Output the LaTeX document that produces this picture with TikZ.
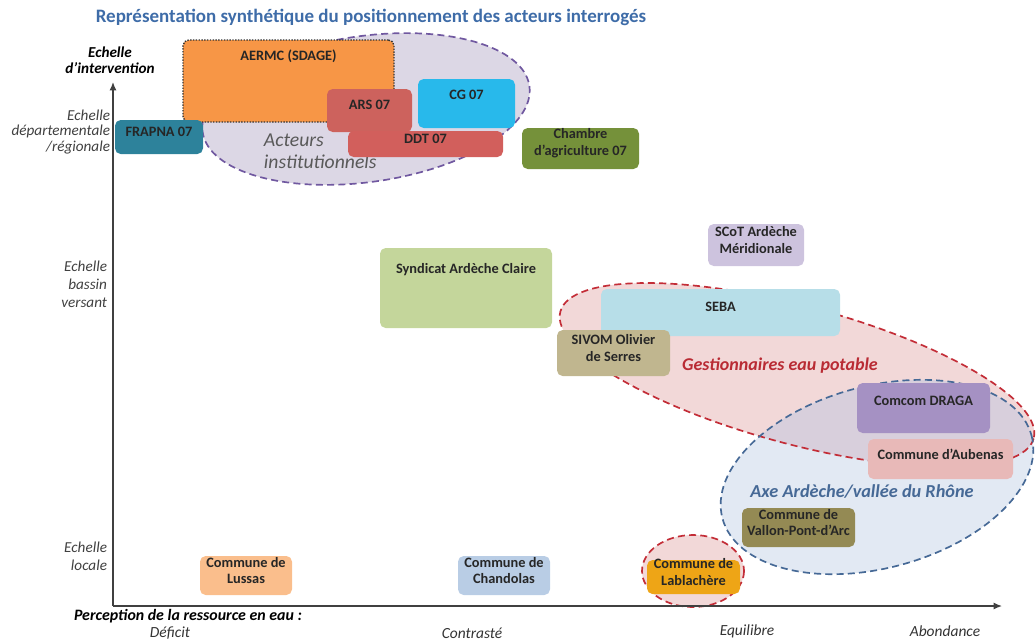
\documentclass[tikz,border=0pt]{standalone}
\usepackage{fontspec}
\setmainfont{Carlito}
\usetikzlibrary{arrows.meta, fit, positioning}

% colours of the actors
\definecolor{titrebleu}{RGB}{62,108,168}
\definecolor{cAermc}{RGB}{247,150,70}
\definecolor{cArs}{RGB}{205,98,93}
\definecolor{cDdt}{RGB}{210,95,92}
\definecolor{cCg}{RGB}{40,185,235}
\definecolor{cFrapna}{RGB}{45,130,155}
\definecolor{cChambre}{RGB}{117,145,58}
\definecolor{cScot}{RGB}{205,195,222}
\definecolor{cSyndicat}{RGB}{196,214,155}
\definecolor{cSeba}{RGB}{183,222,232}
\definecolor{cSivom}{RGB}{192,182,143}
\definecolor{cComcom}{RGB}{165,145,195}
\definecolor{cAubenas}{RGB}{232,185,184}
\definecolor{cVallon}{RGB}{148,138,84}
\definecolor{cLablachere}{RGB}{238,165,22}
\definecolor{cLussas}{RGB}{250,190,140}
\definecolor{cChandolas}{RGB}{185,205,229}
% colours of the groups
\definecolor{violetInst}{RGB}{112,88,160}
\definecolor{fondInst}{RGB}{220,215,229}
\definecolor{rougeGest}{RGB}{195,45,55}
\definecolor{fondGest}{RGB}{242,216,216}
\definecolor{bleuAxe}{RGB}{70,105,150}
\definecolor{fondAxe}{RGB}{226,233,243}
\definecolor{fondMixte}{RGB}{216,207,220}

\newcommand{\acteurfont}{\fontsize{10.2}{11.8}\selectfont\bfseries}
\newcommand{\echellefont}{\fontsize{10.8}{11}\selectfont\itshape}

\begin{document}
\begin{tikzpicture}[x=0.025cm, y=-0.025cm,
    acteur/.style={rounded corners=4pt, inner sep=0pt, align=center, font=\acteurfont, text=black!85},
    haut/.style={anchor=north, inner sep=0pt, yshift=-5pt, align=center, font=\acteurfont, text=black!85},
    echelle/.style={anchor=east, align=right, font=\echellefont, text=black!75},
    valeur/.style={font=\fontsize{11}{12}\selectfont\itshape, text=black!80},
    groupe/.style={line width=1.2pt, dash pattern=on 5pt off 3pt},
    fleche/.style={-{Latex[length=6pt, width=5pt]}, line width=0.9pt, black!75}]

  \useasboundingbox (0,0) rectangle (1036,641);

  % Title
  \node[font=\fontsize{13.5}{15}\selectfont\bfseries, text=titrebleu] (titre) at (371,17)
    {Représentation synthétique du positionnement des acteurs interrogés};

  % Groups of actors (behind the boxes)
  \draw[groupe, draw=violetInst, fill=fondInst, rotate around={8:(366,109)}] (366,109) ellipse [x radius=165, y radius=73];

  \fill[fondGest, rotate around={-15:(797,375)}] (797,375) ellipse [x radius=245, y radius=69];
  \fill[fondAxe, rotate around={15:(877,477)}] (877,477) ellipse [x radius=160, y radius=91];
  \begin{scope}
    \clip[rotate around={-15:(797,375)}] (797,375) ellipse [x radius=245, y radius=69];
    \fill[fondMixte, rotate around={15:(877,477)}] (877,477) ellipse [x radius=160, y radius=91];
  \end{scope}
  \draw[groupe, draw=rougeGest, rotate around={-15:(797,375)}] (797,375) ellipse [x radius=245, y radius=69];
  \draw[groupe, draw=bleuAxe, rotate around={15:(877,477)}] (877,477) ellipse [x radius=160, y radius=91];
  \draw[groupe, draw=rougeGest, fill=fondGest] (693,571) ellipse [x radius=51, y radius=36];

  \node[anchor=west, align=left, font=\fontsize{14}{15.5}\selectfont\itshape, text=black!65] (inst) at (259,151) {Acteurs\\institutionnels};
  \node[font=\fontsize{12.8}{14}\selectfont\bfseries\itshape, text=rougeGest!95!black] (gest) at (780,366) {Gestionnaires eau potable};
  \node[font=\fontsize{13}{14}\selectfont\bfseries\itshape, text=bleuAxe] (axe) at (862,491) {Axe Ardèche/vallée du Rhône};

  % Axes
  \coordinate (origine) at (113,606);
  \coordinate (yfin) at (113,82);
  \coordinate (xfin) at (1002,606);
  \draw[fleche] (origine) -- (yfin);
  \draw[fleche] (origine) -- (xfin);

  \node[align=center, font=\fontsize{10.8}{11.5}\selectfont\bfseries\itshape] (ylab) at (110,60) {Echelle\\d’intervention};
  \node[echelle] (dep) at (115,132) {Echelle\\départementale\\/régionale};
  \node[echelle, font=\fontsize{10.8}{12.8}\selectfont\itshape] (bv) at (112,284) {Echelle\\bassin\\versant};
  \node[echelle, font=\fontsize{10.8}{12.8}\selectfont\itshape] (loc) at (112,556) {Echelle\\locale};

  \node[font=\fontsize{11.3}{12}\selectfont\bfseries\itshape] (xlab) at (188,616) {Perception de la ressource en eau :};
  \node[valeur] (deficit) at (170,633) {Déficit};
  \node[valeur] (contraste) at (472,633) {Contrasté};
  \node[valeur] (equilibre) at (747,631) {Equilibre};
  \node[valeur] (abondance) at (945,631) {Abondance};

  % Actors
  \node[acteur, fill=cAermc, draw=black!80, densely dotted, line width=1pt, fit={(183,40) (394,122)},
        label={[haut, yshift=-2pt]north:AERMC (SDAGE)}] (aermc) {};
  \node[acteur, fill=cArs, fit={(327,89) (412,132)}, label={[haut, yshift=-3pt]north:ARS 07}] (ars) {};
  \node[acteur, fill=cCg, fit={(418,79) (515,128)}, label={[haut, yshift=-3pt]north:CG 07}] (cg) {};
  \node[acteur, fill=cDdt, fit={(348,131) (503,157)}] (ddt) {DDT 07};
  \node[acteur, fill=cFrapna, fit={(115,120) (203,154)}] (frapna) {FRAPNA 07};
  \node[acteur, fill=cChambre, fit={(522,128) (639,169)}] (chambre) {Chambre\\d’agriculture 07};

  \node[acteur, fill=cScot, fit={(708,224) (804,266)}] (scot) {SCoT Ardèche\\Méridionale};
  \node[acteur, fill=cSyndicat, fit={(380,248) (552,328)}, label={[haut, yshift=-6pt]north:Syndicat Ardèche Claire}] (syndicat) {};
  \node[acteur, fill=cSeba, fit={(601,289) (840,336)}, label={[haut, yshift=-4pt]north:SEBA}] (seba) {};
  \node[acteur, fill=cSivom, fit={(557,330) (670,376)}] (sivom) {SIVOM Olivier\\de Serres};

  \node[acteur, fill=cComcom, fit={(857,383) (990,433)}, label={[haut, yshift=-4pt]north:Comcom DRAGA}] (comcom) {};
  \node[acteur, fill=cAubenas, fit={(868,439) (1013,479)}, label={[haut, yshift=-2pt]north:Commune d’Aubenas}] (aubenas) {};
  \node[acteur, fill=cVallon, fit={(742,508) (855,547)}] (vallon) {Commune de\\Vallon-Pont-d’Arc};

  \node[acteur, fill=cLussas, fit={(200,556) (292,595)}] (lussas) {Commune de\\Lussas};
  \node[acteur, fill=cChandolas, fit={(458,556) (550,595)}] (chandolas) {Commune de\\Chandolas};
  \node[acteur, fill=cLablachere, fit={(647,560) (740,594)}] (lablachere) {Commune de\\Lablachère};

\end{tikzpicture}
\end{document}
